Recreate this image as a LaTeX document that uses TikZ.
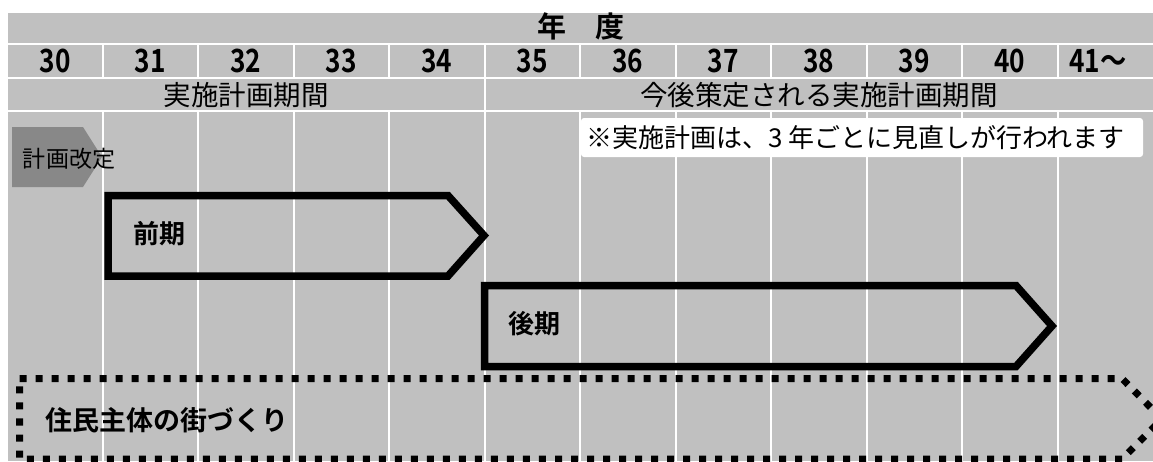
\documentclass[tikz,border=0pt]{standalone}
\usepackage{fontspec}
\usepackage{graphicx}
\setmainfont{Noto Sans CJK JP}[BoldFont={Noto Sans CJK JP Bold}]
\newcommand\myfs[1]{\fontsize{#1pt}{#1pt}\selectfont}
\definecolor{bggray}{RGB}{192,192,192}
\definecolor{pentgray}{RGB}{136,136,136}
\begin{document}
\begin{tikzpicture}[x=1pt,y=-1pt,
  gridline/.style={white,line width=2pt},
  chev/.style={draw=black,line width=7.5pt,line join=miter,miter limit=10},
  dotchev/.style={draw=black,line width=7pt,dash pattern=on 7pt off 9pt,line join=miter,miter limit=10},
  lbl/.style={inner sep=0pt,outer sep=0pt,text=black}]
\useasboundingbox (0,0) rectangle (1153,461);
\fill[white] (0,0) rectangle (1153,461);
\fill[bggray] (8,13) rectangle (1153,461);
% grid
\foreach \y in {44,77.5,111} \draw[gridline] (8,\y) -- (1153,\y);
\foreach \k in {1,...,11} {
  \draw[gridline] ({7+95.5*\k},44) -- ({7+95.5*\k},77.5);
  \draw[gridline] ({7+95.5*\k},111) -- ({7+95.5*\k},461);
}
\draw[gridline] (484.5,77.5) -- (484.5,111);
% plan revision tag
\fill[pentgray] (12,127) -- (83,127) -- (102,157) -- (83,187) -- (12,187) -- cycle;
% note box
\fill[white,rounded corners=3pt] (581,118) rectangle (1143,157);
% chevrons
\draw[chev] (108,195.5) -- (448,195.5) -- (484,235.5) -- (448,276) -- (108,276) -- cycle;
\draw[chev] (484.5,285.5) -- (1016,285.5) -- (1052,326) -- (1016,366.5) -- (484.5,366.5) -- cycle;
\draw[dotchev] (19.5,378.5) -- (1122,378.5) -- (1162,419) -- (1122,459) -- (19.5,459) -- cycle;
% texts
\node[lbl,anchor=base,font=\bfseries\myfs{29}] (title) at (580.5,37.5) {年　度};
\foreach \n/\cx [count=\i] in {30/55.25,31/150.25,32/245.75,33/341.25,34/436.75,35/532.25,36/627.75,37/723.25,38/818.75,39/914.25,40/1009.75,41～/1098}
  \node[lbl,anchor=base,font=\bfseries\myfs{32}] (yr\i) at (\cx,72) {\scalebox{0.82}[1]{\n}};
\node[lbl,anchor=base,font=\myfs{27.5}] (plana) at (246,105) {実施計画期間};
\node[lbl,anchor=base,font=\myfs{27.5}] (planb) at (819,105) {今後策定される実施計画期間};
\node[lbl,anchor=base west,font=\myfs{26}] (note) at (586,147) {※実施計画は、3 年ごとに見直しが行われます};
\node[lbl,anchor=base west,font=\myfs{23}] (rev) at (23,167.5) {計画改定};
\node[lbl,anchor=base west,font=\bfseries\myfs{26}] (first) at (133,243) {前期};
\node[lbl,anchor=base west,font=\bfseries\myfs{26}] (second) at (508,333) {後期};
\node[lbl,anchor=base west,font=\bfseries\myfs{27}] (town) at (45,430) {住民主体の街づくり};
\end{tikzpicture}
\end{document}
